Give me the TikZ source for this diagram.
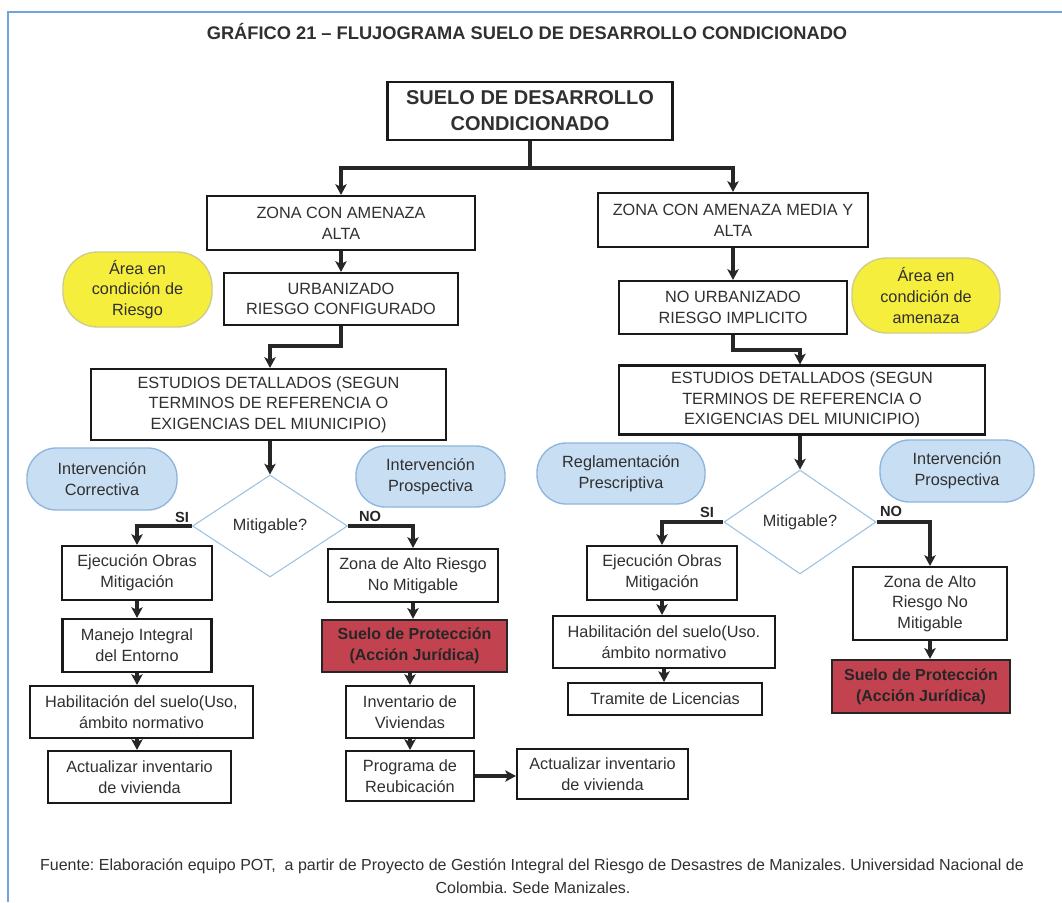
\documentclass[tikz,border=0pt]{standalone}
\usepackage{fontspec}
\setmainfont{Liberation Sans}
\usetikzlibrary{arrows.meta,shapes.geometric}
\definecolor{txt}{HTML}{303030}
\definecolor{yelfill}{HTML}{F6EE3C}
\definecolor{yeldraw}{HTML}{CFCB8A}
\definecolor{blufill}{HTML}{C8DEF2}
\definecolor{bludraw}{HTML}{8DB5DE}
\definecolor{redfill}{HTML}{C2434F}
\definecolor{diadraw}{HTML}{9CC2E5}
\definecolor{framec}{HTML}{6EA6DB}
\frenchspacing
\begin{document}
\begin{tikzpicture}[x=0.75pt,y=-0.75pt,
  wh/.style 2 args={minimum width=#1*0.75pt, minimum height=#2*0.75pt},
  basefont/.style={font=\fontsize{12.2}{15.5}\selectfont},
  box/.style={draw=black!90, line width=1.6pt, fill=white, text=txt, align=center, inner sep=1pt, basefont},
  bigbox/.style={box, font=\fontsize{15}{19.5}\selectfont\bfseries},
  yel/.style={draw=yeldraw, line width=1pt, fill=yelfill, text=txt, align=center, inner sep=1pt, rounded corners=26pt, basefont},
  blu/.style={draw=bludraw, line width=1pt, fill=blufill, text=txt, align=center, inner sep=1pt, rounded corners=22pt, basefont},
  redbox/.style={draw=black!85, line width=1.8pt, fill=redfill, text=black!85, align=center, inner sep=1pt, font=\fontsize{12}{15.5}\selectfont\bfseries},
  dia/.style={diamond, draw=diadraw, line width=0.8pt, fill=white, text=txt, inner sep=0pt, basefont},
  lbl/.style={text=black!85, inner sep=0pt, font=\fontsize{11}{13}\selectfont\bfseries},
  arr/.style={draw=black!85, line width=2.3pt, -{Stealth[length=8pt,width=8.5pt,inset=2pt]}},
  frameline/.style={draw=framec, line width=2.2pt},
  note/.style={text=txt, inner sep=0pt, font=\fontsize{12}{14}\selectfont}
]
\useasboundingbox (0,0) rectangle (1062,902);
\fill[white] (0,0) rectangle (1062,902);
\coordinate (fa) at (8,902);
\coordinate (fb) at (8,12);
\coordinate (fc) at (1062,12);
\draw[frameline] (fa) -- (fb) -- (fc);

\node[text=txt, inner sep=0pt, font=\fontsize{13.7}{16}\selectfont\bfseries] (title) at (527,31) {GRÁFICO 21 – FLUJOGRAMA SUELO DE DESARROLLO CONDICIONADO};

% top
\node[bigbox, wh={285}{58}] (top) at (530,111) {SUELO DE DESARROLLO\\CONDICIONADO};
\node[box, wh={268}{54}] (zL) at (341,223) {ZONA CON AMENAZA\\ALTA};
\node[box, wh={270}{54}] (zR) at (733,220) {ZONA CON AMENAZA MEDIA Y\\ALTA};
\node[yel, wh={149}{75}] (yL) at (137.5,289.5) {Área en\\condición de\\Riesgo};
\node[box, wh={234}{52}] (urb) at (341,299) {URBANIZADO\\RIESGO CONFIGURADO};
\node[box, wh={228}{53}] (nurb) at (733,307.5) {NO URBANIZADO\\RIESGO IMPLICITO};
\node[yel, wh={148}{75}] (yR) at (926,295.5) {Área en\\condición de\\amenaza};

\node[box, wh={355}{71}] (estL) at (268.5,404.5) {ESTUDIOS DETALLADOS (SEGUN\\TERMINOS DE REFERENCIA O\\EXIGENCIAS DEL MIUNICIPIO)};
\node[box, wh={366}{69}] (estR) at (802,400) {ESTUDIOS DETALLADOS (SEGUN\\TERMINOS DE REFERENCIA O\\EXIGENCIAS DEL MIUNICIPIO)};

% ellipses
\node[blu, wh={150}{62}] (corr) at (102,479) {Intervención\\Correctiva};
\node[blu, wh={149}{61}] (prosL) at (430.5,476.5) {Intervención\\Prospectiva};
\node[blu, wh={168}{61}] (regl) at (621,473.5) {Reglamentación\\Prescriptiva};
\node[blu, wh={154}{62}] (prosR) at (957,471) {Intervención\\Prospectiva};

% diamonds
\node[dia, wh={155}{102}] (dL) at (270,526) {Mitigable?};
\node[dia, wh={152}{104}] (dR) at (800,522) {Mitigable?};
\node[lbl] (siL) at (182,517) {SI};
\node[lbl] (noL) at (370,516) {NO};
\node[lbl] (siR) at (707,512) {SI};
\node[lbl] (noR) at (891,511) {NO};

% left column
\node[box, wh={150}{54}] (ejL) at (137,573) {Ejecución Obras\\Mitigación};
\node[box, wh={149}{53}] (manL) at (137,645.5) {Manejo Integral\\del Entorno};
\node[box, wh={223}{52}] (habL) at (141.5,712) {Habilitación del suelo(Uso,\\ámbito normativo};
\node[box, wh={183}{52}] (actL) at (139.5,777) {Actualizar inventario\\de vivienda};

% middle column
\node[box, wh={170}{53}] (zaL) at (413,575.5) {Zona de Alto Riesgo\\No Mitigable};
\node[redbox, wh={185}{52}] (suL) at (414.5,646) {Suelo de Protección\\(Acción Jurídica)};
\node[box, wh={128}{52}] (inv) at (410,712) {Inventario de\\Viviendas};
\node[box, wh={128}{50}] (prog) at (410,776) {Programa de\\Reubicación};
\node[box, wh={171}{50}] (actM) at (602.5,774) {Actualizar inventario\\de vivienda};

% right columns
\node[box, wh={150}{54}] (ejR) at (662,573) {Ejecución Obras\\Mitigación};
\node[box, wh={222}{52}] (habR) at (664,642) {Habilitación del suelo(Uso.\\ámbito normativo};
\node[box, wh={194}{32}] (tram) at (665,699) {Tramite de Licencias};
\node[box, wh={154}{73}] (zaR) at (930,603.5) {Zona de Alto\\Riesgo No\\Mitigable};
\node[redbox, wh={178}{53}] (suR) at (921,686.5) {Suelo de Protección\\(Acción Jurídica)};

% footer
\node[note] (f1) at (532,866) {Fuente: Elaboración equipo POT,\ \ a partir de Proyecto de Gestión Integral del Riesgo de Desastres de Manizales. Universidad Nacional de};
\node[note] (f2) at (533,888) {Colombia. Sede Manizales.};

% connectors
\coordinate (jt) at (530,168);
\draw[arr] (top.south) -- (jt) -| (zL.north);
\draw[arr] (top.south) -- (jt) -| (zR.north);
\draw[arr] (zL.south) -- (zL.south |- urb.north);
\draw[arr] (zR.south) -- (zR.south |- nurb.north);
\coordinate (ju) at (341,346);
\draw[arr] (urb.south) -- (ju) -| (dL.north |- estL.north);
\coordinate (jn) at (733,350);
\draw[arr] (nurb.south) -- (jn) -| (dR.north |- estR.north);
\draw[arr] (dL.north |- estL.south) -- (dL.north);
\draw[arr] (dR.north |- estR.south) -- (dR.north);
\draw[arr] (dL.west) -| (ejL.north);
\draw[arr] (dL.east) -| (zaL.north);
\draw[arr] (dR.west) -| (ejR.north);
\draw[arr] (dR.east) -| (zaR.north);
\draw[arr] (ejL.south) -- (ejL.south |- manL.north);
\draw[arr] (manL.south) -- (manL.south |- habL.north);
\draw[arr] (habL.south -| manL.south) -- (manL.south |- actL.north);
\draw[arr] (zaL.south) -- (zaL.south |- suL.north);
\draw[arr] (inv.north |- suL.south) -- (inv.north);
\draw[arr] (inv.south) -- (prog.north);
\draw[arr] (prog.east) -- (prog.east -| actM.west);
\draw[arr] (ejR.south) -- (ejR.south |- habR.north);
\draw[arr] (habR.south) -- (habR.south |- tram.north);
\draw[arr] (zaR.south) -- (zaR.south |- suR.north);
\end{tikzpicture}
\end{document}
